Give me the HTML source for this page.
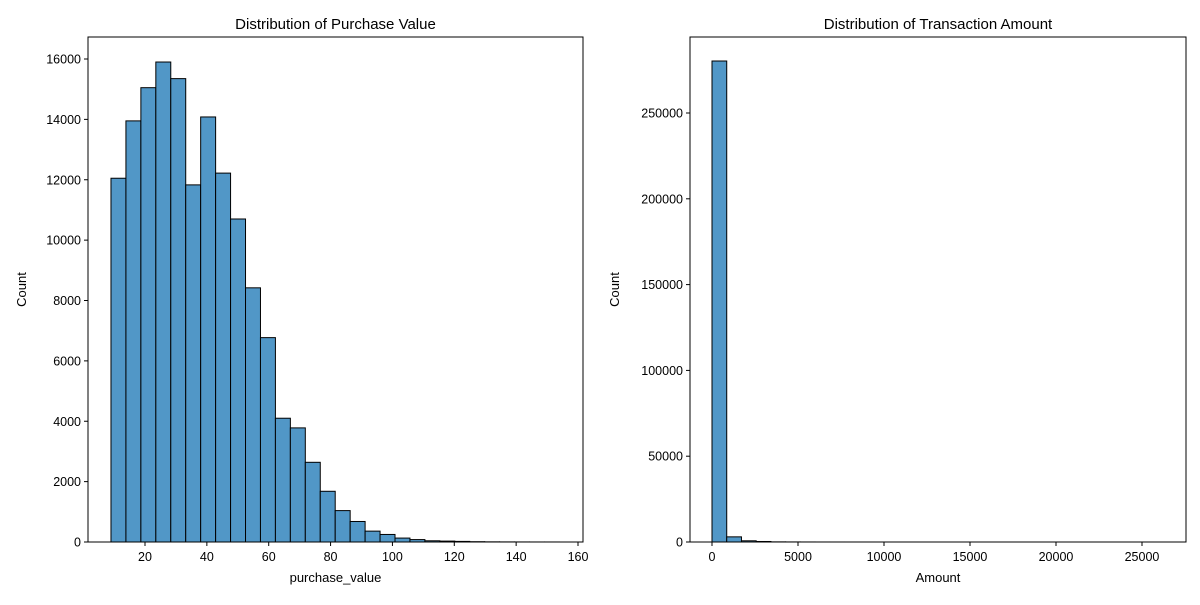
<!DOCTYPE html>
<html><head><meta charset="utf-8"><style>
body{margin:0;background:#fff;font-family:"Liberation Sans","DejaVu Sans",sans-serif}
svg text{font-family:"Liberation Sans","DejaVu Sans",sans-serif;fill:#000}
</style></head><body>
<svg id="c" width="1200" height="600"></svg>
<script>
// Left chart data
const pvStart = 9, pvEnd = 154;
const pvCounts = [12050,13950,15050,15900,15350,11830,14080,12220,10700,8420,6770,4100,3780,2640,1680,1040,680,360,250,130,80,40,30,20,10,5,3,2,1,1];
const pvXTicks = [20,40,60,80,100,120,140,160];
const pvYTicks = [0,2000,4000,6000,8000,10000,12000,14000,16000];
// Right chart data
const amtStart = 0, amtEnd = 25691;
const amtCounts = [280300,3000,700,300,80,40,20,10,5,3,2,1,1,1,0,0,0,0,0,0,0,0,0,0,0,0,0,0,0,1];
const amtXTicks = [0,5000,10000,15000,20000,25000];
const amtYTicks = [0,50000,100000,150000,200000,250000];

const NS="http://www.w3.org/2000/svg", svg=document.getElementById('c');
function mk(tag,attrs,parent){const e=document.createElementNS(NS,tag);for(const k in attrs)e.setAttribute(k,attrs[k]);(parent||svg).appendChild(e);return e;}
function txt(s,attrs,parent){const t=mk('text',attrs,parent);t.textContent=s;return t;}

function chart(o){
  const g=mk('g',{});
  
  
  const X=v=>o.x0+(v-o.xmin)*(o.x1-o.x0)/(o.xmax-o.xmin);
  const Y=v=>o.y0-(v-o.ymin)*(o.y0-o.y1)/(o.ymax-o.ymin);
  const n=o.counts.length, w=(o.end-o.start)/n;
  o.counts.forEach((c,i)=>{
    if(c<=0) return;
    const a=X(o.start+i*w), b=X(o.start+(i+1)*w);
    const r=mk('rect',{x:a,y:Y(c),width:b-a,height:Y(0)-Y(c),fill:'#5197c7',stroke:'#000','stroke-width':1},g);
    
    
  });
  const f=mk('rect',{x:o.ax0,y:o.ay0,width:o.ax1-o.ax0,height:o.ay1-o.ay0,fill:'none',stroke:'#000','stroke-width':1},g);
  
  
  o.xticks.forEach(t=>{const x=X(t);mk('line',{x1:x,x2:x,y1:o.ay1,y2:o.ay1+4,stroke:'#000'},g);
    const l=txt(String(t),{x:x,y:o.ay1+19,'font-size':12.5,'text-anchor':'middle'},g);
    
    });
  o.yticks.forEach(t=>{const y=Y(t);mk('line',{x1:o.ax0-4,x2:o.ax0,y1:y,y2:y,stroke:'#000'},g);
    const l=txt(String(t),{x:o.ax0-7,y:y+4.5,'font-size':12.5,'text-anchor':'end'},g);
    
    });
  const tt=txt(o.title,{x:(o.ax0+o.ax1)/2,y:o.ay0-8,'font-size':15,'text-anchor':'middle'},g);
  
  
  const xl=txt(o.xlabel,{x:(o.ax0+o.ax1)/2,y:582,'font-size':13,'text-anchor':'middle'},g);
  
  
  const yx=o.ylx, yy=(o.ay0+o.ay1)/2;
  const yl=txt('Count',{x:yx,y:yy,'font-size':13,'text-anchor':'middle',transform:`rotate(-90 ${yx} ${yy})`},g);
  
  
}
chart({name:'purchase-value-histogram',counts:pvCounts,start:pvStart,end:pvEnd,xticks:pvXTicks,yticks:pvYTicks,
  x0:145,x1:578,xmin:20,xmax:160,y0:542,y1:59,ymin:0,ymax:16000,
  ax0:88,ax1:583,ay0:37,ay1:542,title:'Distribution of Purchase Value',xlabel:'purchase_value',ylx:26});
chart({name:'transaction-amount-histogram',counts:amtCounts,start:amtStart,end:amtEnd,xticks:amtXTicks,yticks:amtYTicks,
  x0:712,x1:1142,xmin:0,xmax:25000,y0:542,y1:113,ymin:0,ymax:250000,
  ax0:690,ax1:1186,ay0:37,ay1:542,title:'Distribution of Transaction Amount',xlabel:'Amount',ylx:619});
</script>
</body></html>
